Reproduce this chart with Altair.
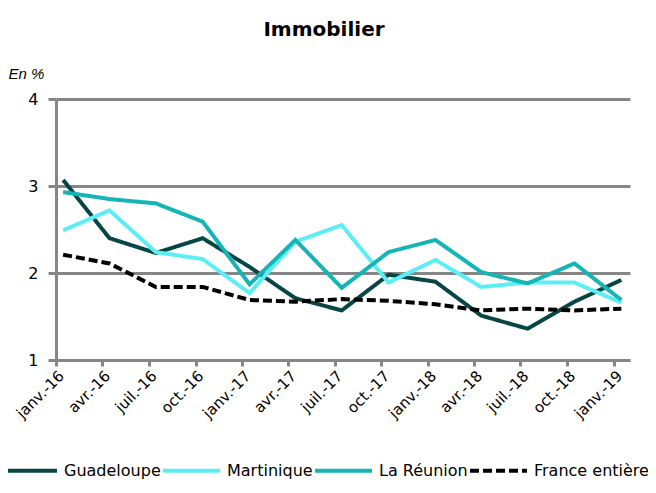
import json
import altair as alt
import pandas as pd

# ---- data ----
dates = ["2016-01-15", "2016-04-15", "2016-07-15", "2016-10-15",
         "2017-01-15", "2017-04-15", "2017-07-15", "2017-10-15",
         "2018-01-15", "2018-04-15", "2018-07-15", "2018-10-15",
         "2019-01-15"]
guadeloupe = [3.07, 2.40, 2.23, 2.40, 2.07, 1.71, 1.57, 1.98, 1.90, 1.51, 1.36, 1.67, 1.92]
martinique = [2.49, 2.72, 2.24, 2.16, 1.77, 2.36, 2.55, 1.89, 2.15, 1.84, 1.89, 1.89, 1.66]
la_reunion = [2.93, 2.85, 2.80, 2.59, 1.87, 2.38, 1.83, 2.24, 2.38, 2.01, 1.88, 2.11, 1.69]
france = [2.21, 2.11, 1.84, 1.84, 1.69, 1.67, 1.70, 1.68, 1.64, 1.57, 1.59, 1.57, 1.59]

series_names = ["Guadeloupe", "Martinique", "La Réunion", "France entière"]
series_values = [guadeloupe, martinique, la_reunion, france]
colors = ["#064646", "#5BEFF5", "#14B4B7", "#000000"]
dashes = [[1, 0], [1, 0], [1, 0], [9, 4]]

tick_years = [2016] * 4 + [2017] * 4 + [2018] * 4 + [2019]
tick_months = [1, 4, 7, 10] * 3 + [1]
months_fr = ["janv.", "févr.", "mars", "avr.", "mai", "juin",
             "juil.", "août", "sept.", "oct.", "nov.", "déc."]

y_ticks = [1, 2, 3, 4]

rows = []
for name, vals in zip(series_names, series_values):
    for d, v in zip(dates, vals):
        rows.append({"date": d, "value": v, "series": name})
df = pd.DataFrame(rows)

grey = "#868686"
font = "DejaVu Sans"

tick_values = [alt.DateTime(year=y, month=m, date=1, utc=True)
               for y, m in zip(tick_years, tick_months)]
label_expr = (json.dumps(months_fr) + "[utcmonth(datum.value)] + '-' + "
              "utcFormat(datum.value, '%y')")

chart = alt.Chart(df).mark_line(strokeWidth=4).encode(
    x=alt.X("date:T",
            scale=alt.Scale(type="utc",
                            domain=[alt.DateTime(year=2016, month=1, date=1, utc=True),
                                    alt.DateTime(year=2019, month=2, date=1, utc=True)]),
            axis=alt.Axis(values=tick_values, labelExpr=label_expr, title=None,
                          labelAngle=-45, labelFontSize=15, labelFont=font,
                          labelColor="#000000", grid=False, labelOverlap=False,
                          labelBound=False, labelFlush=False,
                          domainColor=grey, domainWidth=3,
                          tickColor=grey, tickWidth=3, tickSize=6,
                          labelPadding=2)),
    y=alt.Y("value:Q",
            scale=alt.Scale(domain=[1, 4], nice=False, zero=False),
            axis=alt.Axis(values=y_ticks, format="d", title="En %",
                          titleAngle=0, titleX=-48, titleY=-21,
                          titleAlign="left", titleBaseline="alphabetic",
                          titleFont="Liberation Sans", titleFontStyle="italic",
                          titleFontWeight="normal", titleFontSize=15,
                          titleColor="#000000",
                          labelFontSize=16, labelFont=font, labelColor="#000000",
                          labelPadding=10,
                          grid=True, gridColor=grey, gridWidth=3,
                          domainColor=grey, domainWidth=3,
                          tickColor=grey, tickWidth=3, tickSize=8)),
    color=alt.Color("series:N",
                    scale=alt.Scale(domain=series_names, range=colors),
                    legend=alt.Legend(title=None)),
    strokeDash=alt.StrokeDash("series:N",
                              scale=alt.Scale(domain=series_names, range=dashes),
                              legend=alt.Legend(title=None)),
).properties(
    width=574,
    height=261,
    title=alt.TitleParams("Immobilier", font=font, fontSize=20, fontWeight="bold",
                          color="#000000", anchor="middle", frame="group",
                          dx=-19, offset=26),
    autosize=alt.AutoSizeParams(type="none"),
    padding={"left": 48, "top": 91, "right": 18, "bottom": 124},
).configure_view(
    stroke=None
).configure_legend(
    orient="none",
    legendX=-58,
    legendY=341,
    direction="horizontal",
    symbolType="stroke",
    symbolSize=3249,
    symbolStrokeWidth=4,
    labelFont=font,
    labelFontSize=16,
    labelColor="#000000",
    labelOffset=5,
    columnPadding=-6,
    padding=0,
)

chart.save("out.html", embed_options={"renderer": "svg", "actions": False})
